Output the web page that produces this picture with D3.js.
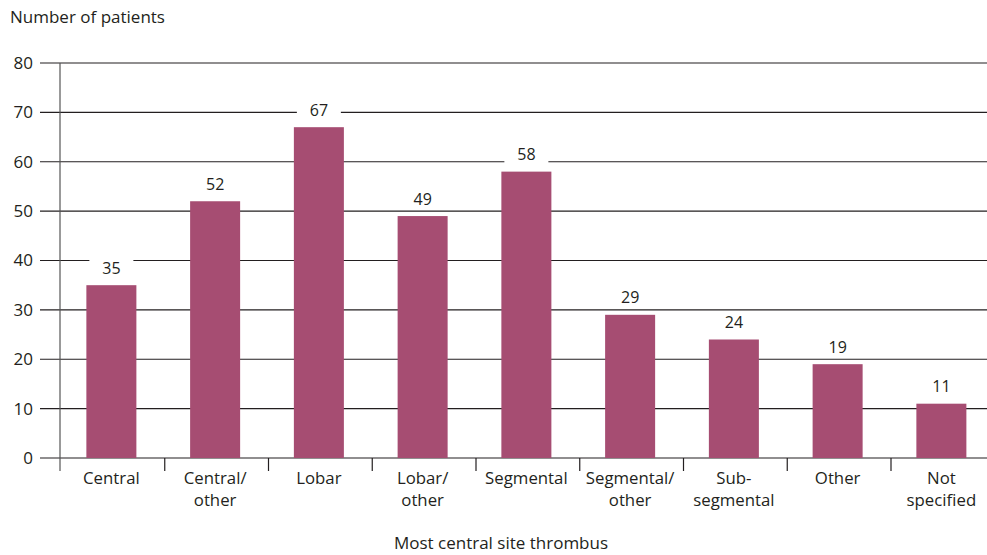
<!DOCTYPE html>
<html><head><meta charset="utf-8">
<script src="https://cdn.jsdelivr.net/npm/d3@7"></script>
<style>
body{margin:0;background:#fff;}
svg text{font-family:"Open Sans","Noto Sans",sans-serif;fill:#231f20;}
</style></head>
<body><svg id="c" width="987" height="555"></svg>
<script>
const categories = [["Central"],["Central/","other"],["Lobar"],["Lobar/","other"],["Segmental"],["Segmental/","other"],["Sub-","segmental"],["Other"],["Not","specified"]];
const values = [35,52,67,49,58,29,24,19,11];
const yTicks = [0,10,20,30,40,50,60,70,80];
const yTitle = "Number of patients";
const xTitle = "Most central site thrombus";

const svg = d3.select("#c");
const axisX = 60, x0 = 59.5, x1 = 59.5 + 9*103.75, yTop = 63, yBot = 458;
const x = d3.scaleBand().domain(d3.range(categories.length)).range([x0, x1]).paddingInner(0.518).paddingOuter(0.259);
const y = d3.scaleLinear().domain([0,80]).range([yBot, yTop]);

// gridlines
svg.append("g").selectAll("line").data(yTicks).join("line")
  .attr("x1", 40).attr("x2", 987).attr("y1", d=>y(d)).attr("y2", d=>y(d))
  .attr("stroke", "#231f20").attr("stroke-width", 1.2);

// y tick labels
svg.append("g").selectAll("text").data(yTicks).join("text")
  .attr("x", 33).attr("y", d=>y(d)).attr("dy","0.35em").attr("text-anchor","end")
  .attr("font-size", 17).text(d=>d);

// y axis line
svg.append("line").attr("x1",axisX).attr("x2",axisX).attr("y1",yTop).attr("y2",yBot+13)
  .attr("stroke","#555").attr("stroke-width",1.2);

// category boundary ticks
svg.append("g").selectAll("line").data(d3.range(1, categories.length)).join("line")
  .attr("x1", d=>x0 + d*x.step()+1.5).attr("x2", d=>x0 + d*x.step()+1.5)
  .attr("y1", yBot).attr("y2", yBot+13).attr("stroke","#231f20").attr("stroke-width",1.2);

// bars
svg.append("g").selectAll("rect").data(values).join("rect")
  .attr("x", (d,i)=>x(i)).attr("width", x.bandwidth())
  .attr("y", d=>y(d)).attr("height", d=>yBot - y(d))
  .attr("fill", "#a64d72");

// value labels with white boxes
const lab = svg.append("g").selectAll("g").data(values).join("g")
  .attr("transform",(d,i)=>`translate(${x(i)+x.bandwidth()/2},${y(d)-17})`);
lab.append("rect").attr("x",-22).attr("y",-9).attr("width",44).attr("height",18).attr("fill","#fff");
lab.append("text").attr("text-anchor","middle").attr("dy","0.35em").attr("font-size",16).text(d=>d);

// category labels
const cl = svg.append("g").selectAll("text").data(categories).join("text")
  .attr("text-anchor","middle").attr("font-size",16.8)
  .attr("transform",(d,i)=>`translate(${x(i)+x.bandwidth()/2},484)`);
cl.selectAll("tspan").data(d=>d).join("tspan")
  .attr("x",0).attr("y",(d,j)=>j*22).text(d=>d);

// titles
svg.append("text").attr("x",10).attr("y",23).attr("font-size",17).text(yTitle);
svg.append("text").attr("x",501).attr("y",549).attr("text-anchor","middle").attr("font-size",17).text(xTitle);
</script></body></html>
